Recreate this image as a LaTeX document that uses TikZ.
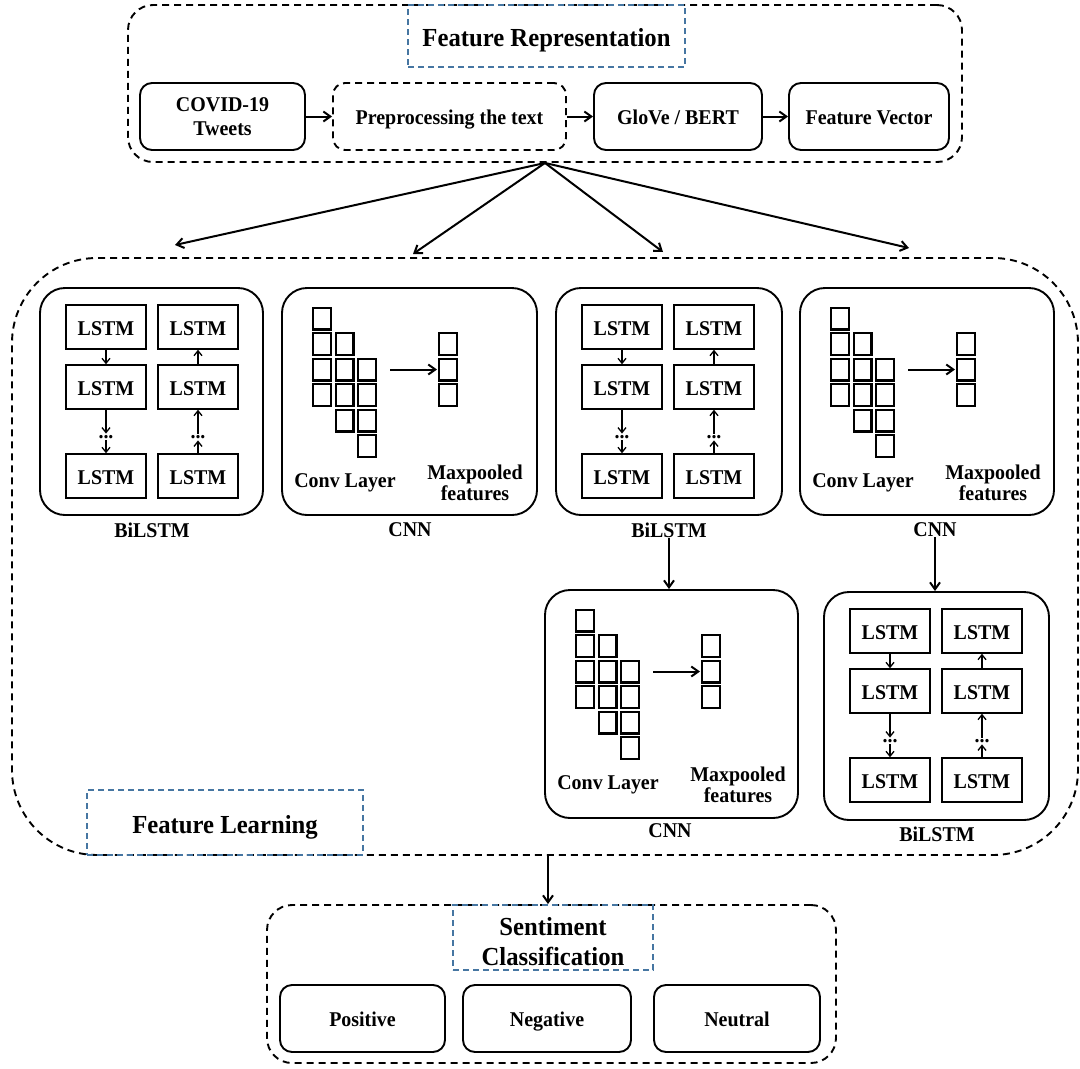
\documentclass[tikz,border=0pt]{standalone}
\usepackage{fontspec}
\setmainfont{Liberation Serif}[FakeStretch=0.95]
\usetikzlibrary{arrows.meta}
\definecolor{labblue}{RGB}{70,118,162}
\begin{document}
\begin{tikzpicture}[x=1pt,y=-1pt,
  txt/.style={font=\bfseries\fontsize{21}{23}\selectfont, align=center, inner sep=0pt},
  one/.style={text height=16pt, text depth=0pt},
  ttl/.style={font=\bfseries\fontsize{26}{30}\selectfont, align=center, inner sep=0pt},
  solidbox/.style={txt, draw, line width=1.9pt, rounded corners=12pt},
  dashbox/.style={txt, draw, line width=1.9pt, rounded corners=12pt, dash pattern=on 7pt off 5pt},
  groupbox/.style={draw, line width=1.9pt, dash pattern=on 7pt off 5pt, inner sep=0pt},
  blockbox/.style={draw, line width=1.9pt, rounded corners=25pt, inner sep=0pt},
  bluebox/.style={ttl, draw=labblue, line width=1.4pt, dash pattern=on 6pt off 4pt},
  lstm/.style={txt, one, draw, line width=1.4pt, minimum width=80, minimum height=44},
  dotsn/.style={inner xsep=0pt, inner ysep=1.5pt, font=\bfseries\fontsize{21}{23}\selectfont},
  arr/.style={line width=2pt, -{Straight Barb[length=7pt,width=10pt]}},
  sarr/.style={line width=1.3pt, -{Straight Barb[length=5pt,width=8pt]}},
  sq/.style={line width=2.4pt},
  lstmpic/.pic={
    \node[lstm] (-l1) at (66,39) {LSTM};
    \node[lstm] (-l2) at (66,99) {LSTM};
    \node[dotsn] (-ld) at (66,149) {...};
    \node[lstm] (-l3) at (66,188) {LSTM};
    \node[lstm] (-r1) at (158,39) {LSTM};
    \node[lstm] (-r2) at (158,99) {LSTM};
    \node[dotsn] (-rd) at (158,149) {...};
    \node[lstm] (-r3) at (158,188) {LSTM};
    \draw[sarr] (-l1) -- (-l2);
    \draw[sarr] (-l2) -- (-ld);
    \draw[sarr] (-ld) -- (-l3);
    \draw[sarr] (-r3) -- (-rd);
    \draw[sarr] (-rd) -- (-r2);
    \draw[sarr] (-r2) -- (-r1);
  },
  cnnpic/.pic={
    \foreach \c/\r in {0/0,0/1,0/2,0/3,1/1,1/2,1/3,1/4,2/2,2/3,2/4,2/5}{
      \draw[sq] ({31.2+22.5*\c},{19.7+25.5*\r}) rectangle ++(17.6,21.6);
    }
    \foreach \r in {1,2,3}{
      \draw[sq] (157.2,{19.7+25.5*\r}) rectangle ++(17.6,21.6);
    }
    \coordinate (-a) at (108,81.5);
    \coordinate (-b) at (155,81.5);
    \draw[arr] (-a) -- (-b);
    \node[txt] (-conv) at (63,195) {Conv Layer};
    \node[txt] (-max) at (193,195) {Maxpooled\\[-2pt]features};
  }
]
\useasboundingbox (0,0) rectangle (1080,1069);

% ---------- Feature representation ----------
\node[groupbox, rounded corners=25pt, minimum width=834, minimum height=157] (fr) at (545,83.5) {};
\node[bluebox, text height=21pt, text depth=0pt, minimum width=277, minimum height=62] (frlab) at (546.5,36) {Feature Representation};
\node[solidbox, minimum width=165, minimum height=67] (tw) at (222.5,116.5) {COVID-19\\[1pt]Tweets};
\node[dashbox, one, minimum width=233, minimum height=67] (pre) at (449.5,116.5) {Preprocessing the text};
\node[solidbox, one, minimum width=168, minimum height=67] (glove) at (678,116.5) {GloVe / BERT};
\node[solidbox, one, minimum width=160, minimum height=67] (fv) at (869,116.5) {Feature Vector};
\draw[arr] (tw) -- (pre);
\draw[arr] (pre) -- (glove);
\draw[arr] (glove) -- (fv);

% fan
\coordinate (e1) at (175,245);
\coordinate (e2) at (413,254);
\coordinate (e3) at (663,252);
\coordinate (e4) at (909,248);
\foreach \e in {e1,e2,e3,e4}{ \draw[arr] (fr.south) -- (\e); }

% ---------- Feature learning ----------
\node[groupbox, rounded corners=85pt, minimum width=1066, minimum height=597] (fl) at (545,556.5) {};
\node[bluebox, text height=21pt, text depth=0pt, minimum width=276, minimum height=65] (fllab) at (225,822.5) {Feature Learning};

\node[blockbox, minimum width=223, minimum height=227] (b1) at (151.5,401.5) {};
\pic (b1in) at (40,288) {lstmpic};
\node[txt] (b1lab) at (152,530) {BiLSTM};

\node[blockbox, minimum width=255, minimum height=227] (c1) at (409.5,401.5) {};
\pic (c1in) at (282,288) {cnnpic};
\node[txt] (c1lab) at (410,530) {CNN};

\node[blockbox, minimum width=226, minimum height=227] (b2) at (669,401.5) {};
\pic (b2in) at (556,288) {lstmpic};
\node[txt] (b2lab) at (669,530) {BiLSTM};

\node[blockbox, minimum width=254, minimum height=227] (c2) at (927,401.5) {};
\pic (c2in) at (800,288) {cnnpic};
\node[txt] (c2lab) at (935,530) {CNN};

\node[blockbox, minimum width=253, minimum height=228] (c3) at (671.5,704) {};
\pic (c3in) at (545,590) {cnnpic};
\node[txt] (c3lab) at (670,831) {CNN};

\node[blockbox, minimum width=225, minimum height=228] (b3) at (936.5,706) {};
\pic (b3in) at (824,592) {lstmpic};
\node[txt] (b3lab) at (937,834) {BiLSTM};

\draw[arr] (b2lab.south) -- (b2lab.south |- c3.north);
\draw[arr] (c2lab.south) -- (c2lab.south |- b3.north);

% ---------- Sentiment classification ----------
\node[groupbox, rounded corners=25pt, minimum width=569, minimum height=158] (sc) at (551.5,984) {};
\node[bluebox, minimum width=200, minimum height=65] (sclab) at (553,937.5) {\rule{0pt}{26pt}Sentiment\\[0pt]Classification};
\node[solidbox, one, minimum width=165, minimum height=67] (pos) at (362.5,1018.5) {Positive};
\node[solidbox, one, minimum width=168, minimum height=67] (neg) at (547,1018.5) {Negative};
\node[solidbox, one, minimum width=166, minimum height=67] (neu) at (737,1018.5) {Neutral};

\draw[arr] ([xshift=3pt]fl.south) -- ([xshift=3pt]fl.south |- sc.north);
\end{tikzpicture}
\end{document}
